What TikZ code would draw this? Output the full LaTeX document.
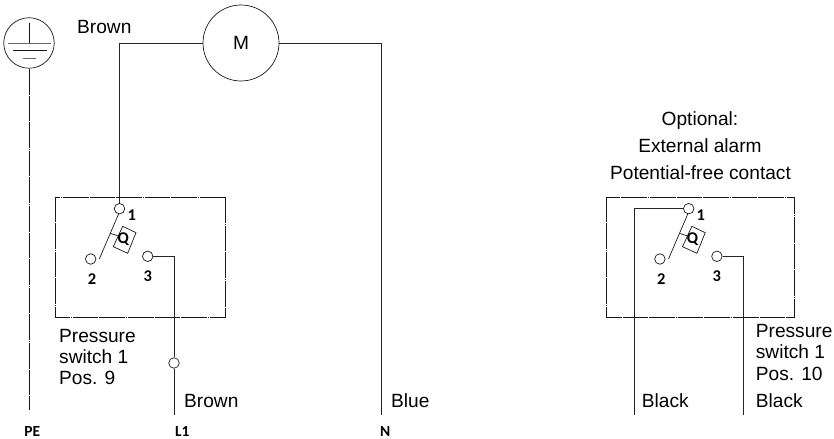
\documentclass[tikz,border=0pt]{standalone}
\usepackage{fontspec}
\setmainfont{Liberation Sans}
\newfontfamily\labfont{Carlito}[BoldFont={* Bold}]
\tikzset{
  wire/.style={draw=black!85,line width=0.9bp},
  thin wire/.style={draw=black!90,line width=0.7bp},
  dashbox/.style={draw=black!90,line width=0.8bp,dash pattern=on 25bp off 0.8bp on 0.8bp off 0.8bp},
  earthline/.style={draw=black!90,line width=0.7bp,dash pattern=on 25bp off 0.8bp on 0.8bp off 0.8bp},
  term/.style={circle,draw=black!90,fill=white,line width=0.7bp,minimum size=10.5bp,inner sep=0pt},
  lab/.style={inner sep=0pt,anchor=base west,font=\fontsize{19.2}{22}\selectfont},
  labc/.style={inner sep=0pt,anchor=base,font=\fontsize{19.2}{22}\selectfont},
  num/.style={inner sep=0pt,anchor=base,font=\labfont\bfseries\fontsize{16.5}{18}\selectfont},
  numw/.style={inner sep=0pt,anchor=base west,font=\labfont\bfseries\fontsize{15.5}{18}\selectfont},
}
\newcommand{\myswitch}[2]{%
  \begin{scope}[shift={(#2,0)}]
    \node[term] (#1a) at (119.5,208.7) {};
    \node[term] (#1b) at (90.7,259) {};
    \node[term] (#1c) at (147.7,256.3) {};
    \coordinate (#1p) at (118.7,213.7);
    \coordinate (#1q) at (99.3,259);
    \coordinate (#1r) at (110,233.3);
    \coordinate (#1s) at (117.7,235.7);
    \draw[thin wire] (#1p) -- (#1q);
    \draw[thin wire] (#1r) -- (#1s);
    \draw[thin wire] (122.7,226.3) -- (136,232.7) -- (127.7,253.3) -- (113.3,246.7) -- cycle;
    \node[num] (#1Q) at (123.2,244) {Q};
    \node[num] (#1n1) at (131.7,220.5) {1};
    \node[num] (#1n2) at (92,284.5) {2};
    \node[num] (#1n3) at (147.7,281.5) {3};
  \end{scope}}
\begin{document}
\begin{tikzpicture}[x=1bp,y=-1bp]
\useasboundingbox (0,0) rectangle (834,439);
% earth
\node[circle,draw=black!90,line width=0.7bp,minimum size=50.5bp,inner sep=0pt] (earth) at (29,43) {};
\draw[thin wire] (29,23) -- (29,43);
\draw[wire,draw=black!60] (8,43) -- (51,43);
\draw[thin wire] (13,50) -- (47,50);
\draw[wire,draw=black!60] (23,58) -- (36,58);
\coordinate (peend) at (29,410);
\draw[earthline] (earth.south) -- (peend);
% motor
\node[circle,draw=black!90,line width=0.7bp,minimum size=76bp,inner sep=0pt,font=\fontsize{19.2}{22}\selectfont] (motor) at (241,43) {M};
% left box
\draw[dashbox] (55.7,197) rectangle (225.7,317);
\myswitch{L}{0}
\draw[wire] (motor.west) -| (La.north);
\node[term] (join) at (174,363) {};
\coordinate (lend) at (174,415);
\coordinate (nend) at (381,415);
\draw[wire] (Lc.east) -| (join.north);
\draw[wire] (join.south) -- (lend);
\draw[wire] (motor.east) -| (nend);
% right box
\draw[dashbox] (606,197) rectangle (794.3,317);
\myswitch{R}{569.2}
\coordinate (blackA) at (634.7,415);
\coordinate (blackB) at (743.3,415);
\draw[wire] (Ra.west) -| (blackA);
\draw[wire] (Rc.east) -| (blackB);
% texts
\node[lab] (tbrown) at (77,34) {Brown};
\node[lab] (p1) at (59,342.2) {Pressure};
\node[lab] (p2) at (59,363.2) {switch 1};
\node[lab] (p3) at (59,384.5) {Pos. 9};
\node[lab] (tbrown2) at (184,407) {Brown};
\node[lab] (tblue) at (391,407) {Blue};
\node[labc] (o1) at (700,126) {Optional:};
\node[labc] (o2) at (700,152.7) {External alarm};
\node[labc] (o3) at (700.5,180) {Potential-free contact};
\node[lab] (q1) at (755.7,337.2) {Pressure};
\node[lab] (q2) at (755.7,358.2) {switch 1};
\node[lab] (q3) at (755.7,380.5) {Pos. 10};
\node[lab] (b1) at (641.7,407) {Black};
\node[lab] (b2) at (755.7,407) {Black};
\node[numw] (pe) at (24.3,436.7) {PE};
\node[numw] (l1) at (175,436.7) {L1};
\node[numw] (n) at (380,436.7) {N};
\end{tikzpicture}
\end{document}
